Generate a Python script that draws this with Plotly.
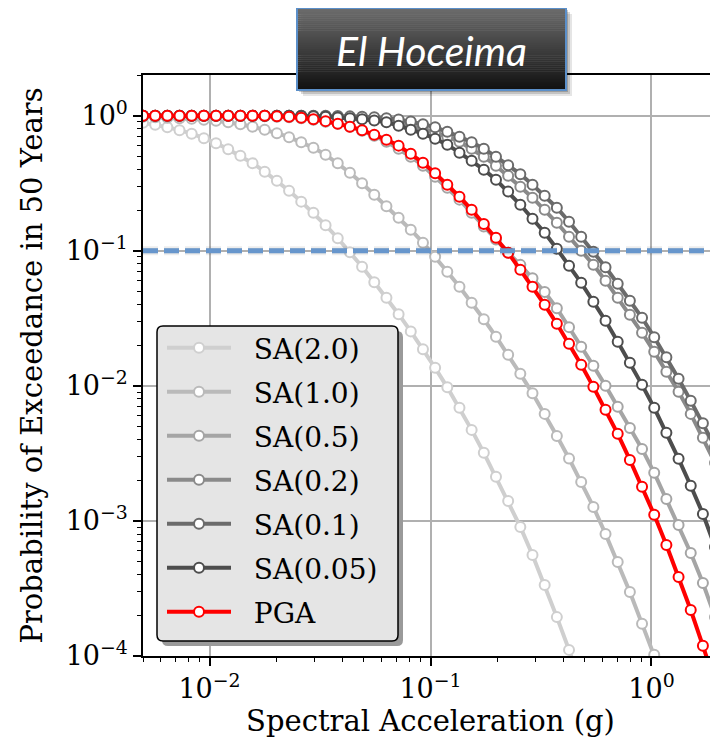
import plotly.graph_objects as go

# ---------------- data ----------------
iml_g = [0.005, 0.005676, 0.006444, 0.007315, 0.008304, 0.009427, 0.010702, 0.012149, 0.013792, 0.015657,
         0.017774, 0.020178, 0.022906, 0.026004, 0.02952, 0.033512, 0.038044, 0.043188, 0.049028, 0.055658,
         0.063185, 0.071729, 0.081428, 0.09244, 0.10494, 0.11913, 0.13524, 0.15353, 0.17429, 0.19786,
         0.22461, 0.25498, 0.28946, 0.32861, 0.37304, 0.42349, 0.48075, 0.54576, 0.61956, 0.70334,
         0.79845, 0.90642, 1.02899, 1.16814, 1.3261, 1.50542, 1.70899, 1.94009, 2.20243, 2.5]

sa_2_0 = [0.887, 0.858, 0.822, 0.781, 0.736, 0.681, 0.626, 0.565, 0.505, 0.445,
          0.385, 0.330, 0.278, 0.231, 0.191, 0.1545, 0.1238, 0.0975, 0.0761, 0.0584,
          0.0449, 0.0339, 0.0253, 0.01864, 0.01359, 0.00975, 0.00687, 0.00472, 0.00319, 0.00212,
          0.001406, 0.000903, 0.000560, 0.000336, 0.000194, 0.000111, 0.000061]

sa_1_0 = [0.983, 0.975, 0.966, 0.958, 0.950, 0.934, 0.918, 0.895, 0.865, 0.829,
          0.788, 0.742, 0.693, 0.636, 0.579, 0.514, 0.445, 0.378, 0.316, 0.260,
          0.2136, 0.1755, 0.1431, 0.1147, 0.0903, 0.0699, 0.0541, 0.0412, 0.0311, 0.0231,
          0.01697, 0.01227, 0.00880, 0.00620, 0.00426, 0.00290, 0.00194, 0.00127, 0.000801, 0.000497,
          0.000298, 0.000173, 0.000102, 0.000058]

sa_0_5 = [1.0, 1.0, 1.0, 1.0, 1.0, 1.0, 0.998, 0.997, 0.995, 0.993,
          0.9915, 0.983, 0.975, 0.958, 0.934, 0.903, 0.872, 0.829, 0.774, 0.711,
          0.642, 0.570, 0.497, 0.426, 0.353, 0.293, 0.239, 0.191, 0.151, 0.121,
          0.0966, 0.0786, 0.0625, 0.0495, 0.0375, 0.0272, 0.01945, 0.01406, 0.0100, 0.00699,
          0.00488, 0.00341, 0.00227, 0.001455, 0.000934, 0.000579, 0.000347, 0.000194, 0.000102]

sa_0_2 = [1.0, 1.0, 1.0, 1.0, 1.0, 1.0, 1.0, 1.0, 1.0, 1.0,
          1.0, 1.0, 1.0, 1.0, 0.995, 0.990, 0.983, 0.975, 0.958, 0.942,
          0.918, 0.887, 0.843, 0.794, 0.748, 0.699, 0.642, 0.570, 0.497, 0.426,
          0.359, 0.298, 0.247, 0.201, 0.1612, 0.1270, 0.1000, 0.0788, 0.0600, 0.0449,
          0.0336, 0.0247, 0.01786, 0.01270, 0.00903, 0.00620, 0.00412, 0.00269, 0.00170]

sa_0_1 = [1.0, 1.0, 1.0, 1.0, 1.0, 1.0, 1.0, 1.0, 1.0, 1.0,
          1.0, 1.0, 1.0, 1.0, 1.0, 1.0, 0.995, 0.988, 0.982, 0.972,
          0.958, 0.936, 0.905, 0.865, 0.822, 0.761, 0.699, 0.636, 0.570, 0.497,
          0.430, 0.369, 0.308, 0.2555, 0.2083, 0.1640, 0.1270, 0.0983, 0.0754, 0.0570,
          0.0426, 0.0319, 0.0229, 0.01626, 0.01127, 0.00774, 0.00528, 0.00353, 0.00231]

sa_0_05 = [1.0, 1.0, 1.0, 1.0, 1.0, 1.0, 1.0, 1.0, 1.0, 1.0,
           1.0, 1.0, 1.0, 0.995, 0.988, 0.980, 0.970, 0.958, 0.940, 0.920,
           0.895, 0.843, 0.788, 0.736, 0.676, 0.610, 0.532, 0.464, 0.398, 0.336,
           0.274, 0.219, 0.1726, 0.1359, 0.1035, 0.0774, 0.0579, 0.0419, 0.0303, 0.0212,
           0.01481, 0.01017, 0.00687, 0.00449, 0.00288, 0.00182, 0.001127, 0.000642, 0.000353]

pga = [1.0, 1.0, 1.0, 1.0, 1.0, 1.0, 1.0, 1.0, 1.0, 1.0,
       1.0, 0.9915, 0.983, 0.966, 0.942, 0.911, 0.872, 0.829, 0.781, 0.723,
       0.664, 0.600, 0.523, 0.449, 0.375, 0.308, 0.251, 0.201, 0.158, 0.125,
       0.0966, 0.0723, 0.0541, 0.0398, 0.0288, 0.0205, 0.0143, 0.00983, 0.00664, 0.00441,
       0.00283, 0.00179, 0.00111, 0.000664, 0.000385, 0.000219, 0.000119, 0.000063]

series_names = ["SA(2.0)", "SA(1.0)", "SA(0.5)", "SA(0.2)", "SA(0.1)", "SA(0.05)", "PGA"]
series_poe = [sa_2_0, sa_1_0, sa_0_5, sa_0_2, sa_0_1, sa_0_05, pga]

threshold_poe = 0.1
title_text = "El Hoceima"
x_title = "Spectral Acceleration (g)"
y_title = "Probability of Exceedance in 50 Years"
x_tick_vals = [0.01, 0.1, 1.0]
x_tick_text = ["10<sup>−2</sup>", "10<sup>−1</sup>", "10<sup>0</sup>"]
y_tick_vals = [1e-4, 1e-3, 1e-2, 1e-1, 1.0]
y_tick_text = ["10<sup>−4</sup>", "10<sup>−3</sup>", "10<sup>−2</sup>", "10<sup>−1</sup>", "10<sup>0</sup>"]

# ---------------- style ----------------
colors = ["#cfcfcf", "#bababa", "#a5a5a5", "#8a8a8a", "#6b6b6b", "#4d4d4d", "#ff0000"]
FONT = "DejaVu Serif"
PAGE_OFF = 8                      # default body margin of the html page
W, H = 710, 732
L, R, T, B = 135, 0, 67, 84
PW, PH = W - L - R, H - T - B     # 575 x 581


def fx(px):
    """screen x pixel -> paper coordinate"""
    return (px - PAGE_OFF - L) / PW


def fy(py):
    """screen y pixel -> paper coordinate"""
    return (H - B - (py - PAGE_OFF)) / PH


fig = go.Figure()
for name, poe, col in zip(series_names, series_poe, colors):
    fig.add_trace(go.Scatter(
        x=iml_g[:len(poe)], y=poe, name="\u00a0\u00a0" + name, mode="lines+markers",
        line=dict(color=col, width=4),
        marker=dict(symbol="circle", size=10, color="white", line=dict(color=col, width=2)),
        legendgroup=name,
    ))

shapes = []
# dashed threshold line with soft shadow
for off, w, a in [(4, 9, 0.07), (4, 5, 0.14)]:
    shapes.append(dict(type="line", xref="paper", x0=0, x1=1, yref="y", ysizemode="pixel",
                       yanchor=threshold_poe, y0=-off, y1=-off,
                       line=dict(color=f"rgba(0,0,0,{a})", width=w, dash="15px,6px"), layer="above"))
shapes.append(dict(type="line", xref="paper", x0=0, x1=1, yref="y", y0=threshold_poe, y1=threshold_poe,
                   line=dict(color="#6796cc", width=5, dash="15px,6px"), layer="above"))


def rrect(x0, y0, x1, y1, r):
    p = [("M", x0 + r, y0), ("L", x1 - r, y0), ("Q", x1, y0, x1, y0 + r), ("L", x1, y1 - r),
         ("Q", x1, y1, x1 - r, y1), ("L", x0 + r, y1), ("Q", x0, y1, x0, y1 - r), ("L", x0, y0 + r),
         ("Q", x0, y0, x0 + r, y0)]
    s = ""
    for seg in p:
        pts = seg[1:]
        coords = [f"{fx(pts[i]):.5f},{fy(pts[i + 1]):.5f}" for i in range(0, len(pts), 2)]
        s += seg[0] + " ".join(coords) + " "
    return s + "Z"


# legend frame (shadow + box)
shapes.append(dict(type="path", xref="paper", yref="paper", path=rrect(162, 331, 403, 646, 6),
                   fillcolor="#9a9a9a", line=dict(width=0), layer="above"))
shapes.append(dict(type="path", xref="paper", yref="paper", path=rrect(157, 326, 398, 641, 6),
                   fillcolor="#e5e5e5", line=dict(color="black", width=1.5), layer="above"))

# title box: shadow, gradient, border
bx0, by0, bx1, by1 = 297, 8, 566, 90
for d, a in [(6, 0.10), (4, 0.15), (2, 0.2)]:
    shapes.append(dict(type="rect", xref="paper", yref="paper", x0=fx(bx0 + d), x1=fx(bx1 + d),
                       y0=fy(by0 + d), y1=fy(by1 + d), fillcolor=f"rgba(0,0,0,{a})", line=dict(width=0),
                       layer="above"))
N = 40
c0, c1 = (0x6c, 0x6c, 0x6c), (0x12, 0x12, 0x12)
for i in range(N):
    t = i / (N - 1)
    c = tuple(int(c0[j] + (c1[j] - c0[j]) * t) for j in range(3))
    ya = by0 + (by1 - by0) * i / N
    yb = by0 + (by1 - by0) * (i + 1) / N
    shapes.append(dict(type="rect", xref="paper", yref="paper", x0=fx(bx0), x1=fx(bx1),
                       y0=fy(ya), y1=fy(yb) - 0.0005, fillcolor="rgb(%d,%d,%d)" % c, line=dict(width=0),
                       layer="above"))
shapes.append(dict(type="rect", xref="paper", yref="paper", x0=fx(bx0), x1=fx(bx1), y0=fy(by0), y1=fy(by1),
                   fillcolor="rgba(0,0,0,0)", line=dict(color="#5b8fc9", width=2), layer="above"))

annotations = [dict(text=f"<i>{title_text}</i>", xref="paper", yref="paper", x=fx((bx0 + bx1) / 2),
                    y=fy((by0 + by1) / 2 + 1), xanchor="center", yanchor="middle", showarrow=False,
                    font=dict(family="Lato", size=41, color="white"))]

minor_x = [d * 10 ** e for e in range(-3, 1) for d in range(2, 10)]
minor_y = [d * 10 ** e for e in range(-4, 1) for d in range(2, 10)]

axis_common = dict(type="log", showline=True, linecolor="black", linewidth=1.5, ticks="outside",
                   ticklen=8, tickwidth=1.5, tickcolor="black", showgrid=True, gridcolor="#b0b0b0",
                   gridwidth=1.5, zeroline=False, tickfont=dict(family=FONT, size=27, color="black"),
                   tickmode="array")

fig.update_layout(
    width=W, height=H, margin=dict(l=L, r=R, t=T, b=B, autoexpand=False),
    paper_bgcolor="white", plot_bgcolor="white",
    xaxis=dict(**axis_common, range=[-2.30103, 0.30103], tickvals=x_tick_vals, ticktext=x_tick_text,
               mirror=True,
               minor=dict(tickmode="array", tickvals=minor_x, ticks="outside", ticklen=4.5, tickwidth=1,
                          tickcolor="black", showgrid=False),
               title=dict(text=x_title, font=dict(family=FONT, size=29, color="black"), standoff=3)),
    yaxis=dict(**axis_common, range=[-4, 0.30103], tickvals=y_tick_vals, ticktext=y_tick_text,
               minor=dict(tickmode="array", tickvals=minor_y, ticks="outside", ticklen=4.5, tickwidth=1,
                          tickcolor="black", showgrid=False),
               title=dict(text=y_title, font=dict(family=FONT, size=29, color="black"), standoff=14)),
    legend=dict(x=fx(162), y=fy(323), xanchor="left", yanchor="top", bgcolor="rgba(0,0,0,0)",
                borderwidth=0, font=dict(family=FONT, size=28, color="black"), itemwidth=64,
                tracegroupgap=4.6, traceorder="grouped"),
    shapes=shapes, annotations=annotations, showlegend=True,
)

fig.write_html("out.html")
